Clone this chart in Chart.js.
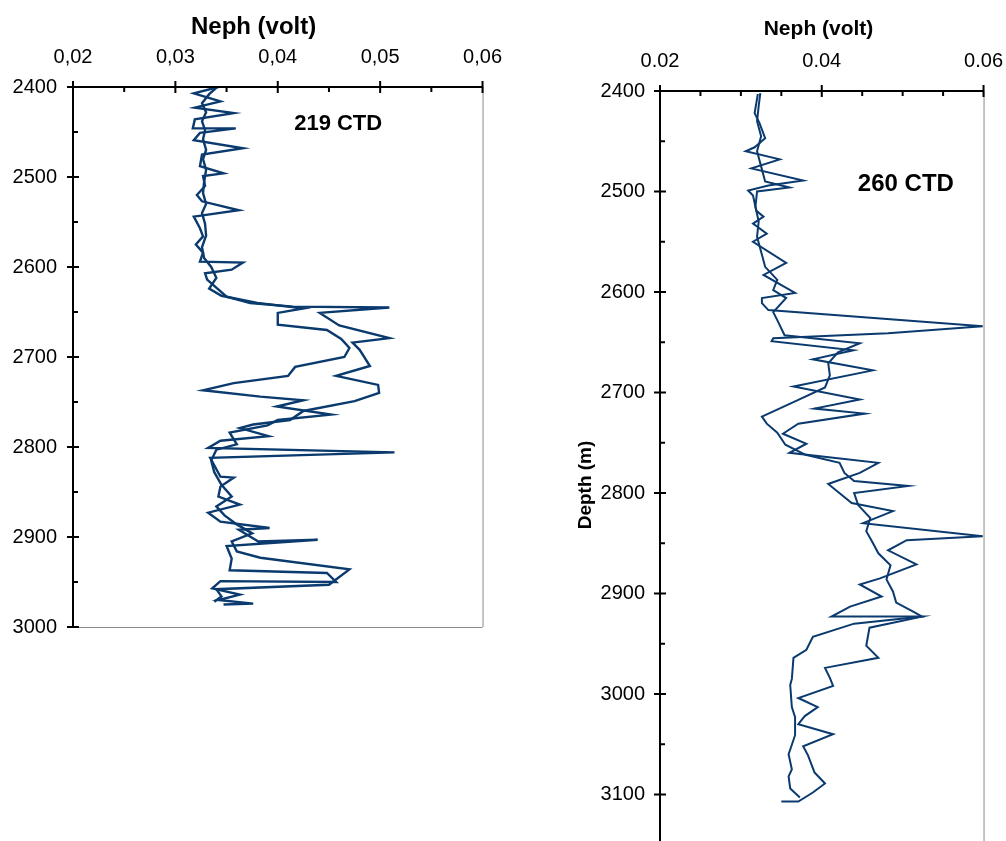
<!DOCTYPE html>
<html lang="en">
<head>
    <meta charset="UTF-8">
    <title>Neph profiles 219 / 260 CTD</title>
    <script src="https://cdn.jsdelivr.net/npm/chart.js"></script>
    <style>
        html, body {margin: 0; padding: 0; background: #fff; overflow: hidden; width: 1006px; height: 841px;}
        canvas {position: absolute; top: 0; left: 0;}
    </style>
</head>
<body>
<canvas id="c219" width="500" height="640"></canvas>
<canvas id="c260" width="446" height="896"></canvas>
<script>
// station 219, down then up
const depth219Down = [2400, 2407, 2416, 2423, 2429, 2436, 2446, 2446, 2451, 2459, 2468, 2475, 2488, 2496, 2499, 2510, 2520, 2527, 2537, 2544,
    2557, 2566, 2575, 2584, 2594, 2595, 2603, 2607, 2614, 2633, 2640, 2644, 2645, 2651, 2665, 2679, 2684, 2692, 2710, 2721,
    2731, 2740, 2749, 2760, 2770, 2775, 2779, 2788, 2793, 2801, 2806, 2812, 2833, 2834, 2844, 2855, 2864, 2873, 2883, 2890,
    2892, 2905, 2903, 2910, 2924, 2937, 2940, 2950, 2949, 2957, 2964, 2970, 2974, 2975];
const neph219Down = [0.0342, 0.0318, 0.0344, 0.0319, 0.0357, 0.0319, 0.0317, 0.0359, 0.0324, 0.0318, 0.0366, 0.0326, 0.0324, 0.0347, 0.0327, 0.0329, 0.0321, 0.0326, 0.0362, 0.0318,
    0.0324, 0.0327, 0.0320, 0.0327, 0.0324, 0.0366, 0.0355, 0.0329, 0.0331, 0.0350, 0.0373, 0.0415, 0.0509, 0.0441, 0.0460, 0.0509, 0.0473, 0.0480, 0.0490, 0.0457,
    0.0498, 0.0499, 0.0475, 0.0425, 0.0412, 0.0376, 0.0363, 0.0391, 0.0344, 0.0332, 0.0514, 0.0334, 0.0344, 0.0357, 0.0344, 0.0342, 0.0363, 0.0332, 0.0344, 0.0392,
    0.0362, 0.0381, 0.0439, 0.0350, 0.0355, 0.0353, 0.0448, 0.0457, 0.0344, 0.0336, 0.0363, 0.0342, 0.0376, 0.0347];
const depth219Up = [2972, 2966, 2958, 2953, 2936, 2923, 2916, 2905, 2896, 2886, 2876, 2866, 2855, 2842, 2828, 2815, 2803, 2797, 2784, 2776,
    2770, 2764, 2755, 2748, 2744, 2737, 2729, 2721, 2711, 2700, 2690, 2680, 2670, 2664, 2651, 2646, 2640, 2632, 2624, 2612,
    2600, 2590, 2578, 2565, 2552, 2540, 2530, 2518, 2506, 2492, 2480, 2470, 2458, 2448, 2438, 2428, 2418, 2408, 2401];
const neph219Up = [0.0338, 0.0345, 0.0340, 0.0450, 0.0470, 0.0383, 0.0360, 0.0355, 0.0375, 0.0360, 0.0348, 0.0340, 0.0355, 0.0345, 0.0338, 0.0335, 0.0340, 0.0360, 0.0353, 0.0390,
    0.0400, 0.0452, 0.0399, 0.0425, 0.0383, 0.0327, 0.0357, 0.0410, 0.0417, 0.0465, 0.0470, 0.0462, 0.0448, 0.0400, 0.0400, 0.0425, 0.0380, 0.0345, 0.0333, 0.0340,
    0.0335, 0.0328, 0.0326, 0.0330, 0.0329, 0.0326, 0.0330, 0.0327, 0.0328, 0.0330, 0.0327, 0.0330, 0.0327, 0.0329, 0.0326, 0.0330, 0.0326, 0.0333, 0.0340];

// station 260, down then up
const depth260Down = [2403, 2422, 2432, 2447, 2456, 2460, 2468, 2477, 2489, 2494, 2499, 2504, 2519, 2525, 2532, 2542, 2550, 2571, 2583, 2601,
    2606, 2611, 2618, 2634, 2641, 2646, 2649, 2658, 2667, 2678, 2694, 2707, 2716, 2721, 2731, 2741, 2751, 2760, 2770, 2780,
    2791, 2810, 2818, 2830, 2843, 2847, 2857, 2871, 2885, 2891, 2903, 2913, 2923, 2923, 2934, 2952, 2964, 2974, 2984, 2992,
    3004, 3013, 3022, 3030, 3040, 3052, 3061, 3078, 3089, 3098, 3107, 3107];
const neph260Down = [0.0321, 0.0317, 0.0323, 0.0330, 0.0317, 0.0306, 0.0348, 0.0313, 0.0377, 0.0334, 0.0309, 0.0315, 0.0319, 0.0328, 0.0315, 0.0332, 0.0315, 0.0356, 0.0328, 0.0367,
    0.0326, 0.0326, 0.0334, 0.0599, 0.0482, 0.0340, 0.0338, 0.0439, 0.0389, 0.0463, 0.0365, 0.0447, 0.0391, 0.0453, 0.0371, 0.0352, 0.0381, 0.0360, 0.0470, 0.0447,
    0.0408, 0.0437, 0.0488, 0.0451, 0.0599, 0.0505, 0.0482, 0.0517, 0.0472, 0.0447, 0.0474, 0.0435, 0.0412, 0.0524, 0.0459, 0.0455, 0.0470, 0.0404, 0.0410, 0.0414,
    0.0371, 0.0395, 0.0379, 0.0371, 0.0414, 0.0377, 0.0383, 0.0391, 0.0404, 0.0389, 0.0371, 0.0350];
const depth260Up = [3103, 3094, 3082, 3075, 3060, 3041, 3023, 3013, 2991, 2985, 2964, 2956, 2943, 2930, 2923, 2918, 2909, 2898, 2886, 2872,
    2860, 2848, 2838, 2825, 2812, 2800, 2793, 2788, 2780, 2770, 2762, 2752, 2740, 2731, 2724, 2708, 2695, 2683, 2671, 2660,
    2651, 2643, 2628, 2620, 2606, 2598, 2588, 2575, 2560, 2545, 2530, 2515, 2500, 2496, 2490, 2475, 2460, 2445, 2430, 2415, 2402];
const neph260Up = [0.0373, 0.0361, 0.0359, 0.0363, 0.0359, 0.0367, 0.0367, 0.0363, 0.0361, 0.0363, 0.0365, 0.0381, 0.0389, 0.0440, 0.0524, 0.0513, 0.0492, 0.0488, 0.0480, 0.0485,
    0.0470, 0.0462, 0.0455, 0.0460, 0.0445, 0.0440, 0.0507, 0.0440, 0.0428, 0.0422, 0.0380, 0.0355, 0.0345, 0.0332, 0.0326, 0.0369, 0.0404, 0.0410, 0.0408, 0.0420,
    0.0447, 0.0354, 0.0345, 0.0340, 0.0356, 0.0340, 0.0345, 0.0330, 0.0325, 0.0320, 0.0322, 0.0318, 0.0320, 0.0360, 0.0330, 0.0325, 0.0320, 0.0325, 0.0320, 0.0322, 0.0324];

const FONT = "'Liberation Sans', Arial, sans-serif";
const LINE = '#0a3a6e';

function pts(depths, vals) {
    return depths.map((d, i) => ({x: vals[i], y: d}));
}

// axis lines drawn by hand: major ticks cross the axis, minor ticks point inward
const axisFrame = {
    id: 'axisFrame',
    afterDraw(chart, args, o) {
        const {ctx, chartArea: a, scales: {x, y}} = chart;
        ctx.save();
        ctx.strokeStyle = '#8a8a8a';
        ctx.lineWidth = 1;
        ctx.beginPath();
        ctx.moveTo(a.right + 0.5, a.top);
        ctx.lineTo(a.right + 0.5, a.bottom);
        if (o.bottomLine) {
            ctx.moveTo(a.left, a.bottom + 0.5);
            ctx.lineTo(a.right, a.bottom + 0.5);
        }
        ctx.stroke();

        ctx.strokeStyle = '#000';
        ctx.lineWidth = 2;
        ctx.beginPath();
        ctx.moveTo(a.left, a.top);
        ctx.lineTo(a.right + 1, a.top);
        ctx.moveTo(a.left, a.top);
        ctx.lineTo(a.left, a.bottom);
        let n = Math.round((x.max - x.min) / o.xMinor);
        let k = Math.round(o.xMajor / o.xMinor);
        for (let i = 0; i <= n; i++) {
            const px = x.getPixelForValue(x.min + i * o.xMinor);
            if (i % k === 0) {
                ctx.moveTo(px, a.top - 6);
                ctx.lineTo(px, a.top + 6);
            } else {
                ctx.moveTo(px, a.top);
                ctx.lineTo(px, a.top + 5);
            }
        }
        n = Math.round((y.max - y.min) / o.yMinor);
        k = Math.round(o.yMajor / o.yMinor);
        for (let i = 0; i <= n; i++) {
            const py = y.getPixelForValue(y.min + i * o.yMinor);
            if (i % k === 0) {
                ctx.moveTo(a.left - 6, py);
                ctx.lineTo(a.left + 6, py);
            } else {
                ctx.moveTo(a.left, py);
                ctx.lineTo(a.left + 5, py);
            }
        }
        ctx.stroke();

        ctx.fillStyle = '#000';
        ctx.textAlign = 'center';
        ctx.textBaseline = 'middle';
        ctx.font = 'bold ' + o.title.size + 'px ' + FONT;
        ctx.fillText('Neph (volt)', a.left + o.title.fx * (a.right - a.left), a.top - o.title.dy);
        ctx.font = 'bold ' + o.label.size + 'px ' + FONT;
        ctx.fillText(o.label.text, x.getPixelForValue(o.label.x), y.getPixelForValue(o.label.y));
        if (o.yTitle) {
            ctx.translate(a.left - o.yTitle.dx, a.top + o.yTitle.dy);
            ctx.rotate(-Math.PI / 2);
            ctx.font = 'bold ' + o.yTitle.size + 'px ' + FONT;
            ctx.fillText(o.yTitle.text, 0, 0);
        }
        ctx.restore();
    }
};

function makeChart(canvas, cfg) {
    return new Chart(canvas, {
        type: 'scatter',
        data: {
            datasets: [
                {data: pts(cfg.down[0], cfg.down[1])},
                {data: pts(cfg.up[0], cfg.up[1])}
            ].map(ds => Object.assign(ds, {
                showLine: true, borderColor: LINE, borderWidth: cfg.lineWidth, pointRadius: 0, tension: 0
            }))
        },
        options: {
            responsive: false,
            animation: false,
            layout: {padding: 0},
            plugins: {legend: {display: false}, tooltip: {enabled: false}, axisFrame: cfg.frame},
            scales: {
                x: {
                    type: 'linear', position: 'top', min: 0.02, max: 0.06,
                    afterFit: s => { s.height = cfg.box.top; },
                    grid: {display: false, drawTicks: false},
                    border: {display: false},
                    ticks: {
                        stepSize: cfg.frame.xMajor, padding: cfg.xPad, color: '#000',
                        font: {family: FONT, size: cfg.tickSize},
                        callback: v => cfg.fmt(v)
                    }
                },
                y: {
                    type: 'linear', reverse: true, min: 2400, max: cfg.yMax,
                    afterFit: s => { s.width = cfg.yWidth; },
                    grid: {display: false, drawTicks: false},
                    border: {display: false},
                    ticks: {
                        stepSize: 100, padding: cfg.yPad, color: '#000',
                        font: {family: FONT, size: cfg.tickSize},
                        callback: v => String(v)
                    }
                }
            }
        },
        plugins: [axisFrame]
    });
}

// lay out once, then resize the canvas so the plot box lands on cfg.box
function build(id, cfg) {
    const canvas = document.getElementById(id);
    let chart = makeChart(canvas, cfg);
    const a = chart.chartArea, b = cfg.box;
    const w = canvas.width + (b.right - b.left) - (a.right - a.left);
    const h = canvas.height + (b.bottom - b.top) - (a.bottom - a.top);
    const dx = b.left - a.left, dy = b.top - a.top;
    chart.destroy();
    canvas.width = w;
    canvas.height = h;
    canvas.style.left = dx + 'px';
    canvas.style.top = dy + 'px';
    return makeChart(canvas, cfg);
}

build('c219', {
    down: [depth219Down, neph219Down],
    up: [depth219Up, neph219Up],
    box: {left: 73, right: 483, top: 87, bottom: 627},
    yWidth: 73, yMax: 3000, lineWidth: 2.4,
    xPad: 18, yPad: 16, tickSize: 20,
    fmt: v => v.toFixed(2).replace('.', ','),
    frame: {xMajor: 0.01, xMinor: 0.005, yMajor: 100, yMinor: 50, bottomLine: true,
        title: {size: 24, fx: 0.441, dy: 60},
        label: {text: '219 CTD', size: 22, x: 0.0459, y: 2441}}
});

build('c260', {
    down: [depth260Down, neph260Down],
    up: [depth260Up, neph260Up],
    box: {left: 660, right: 984, top: 91, bottom: 895},
    yWidth: 100, yMax: 3200, lineWidth: 2,
    xPad: 18, yPad: 15, tickSize: 20,
    fmt: v => v.toFixed(2),
    frame: {xMajor: 0.02, xMinor: 0.005, yMajor: 100, yMinor: 50, bottomLine: false,
        title: {size: 21, fx: 0.49, dy: 62},
        yTitle: {text: 'Depth (m)', size: 19, dx: 74, dy: 394},
        label: {text: '260 CTD', size: 24, x: 0.0504, y: 2493}}
});
</script>
</body>
</html>
